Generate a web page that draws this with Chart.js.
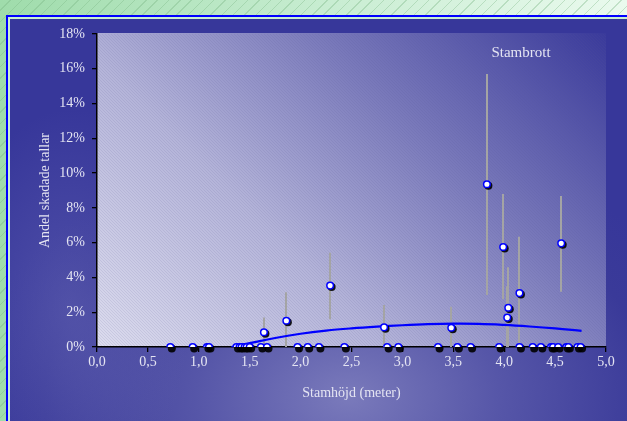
<!DOCTYPE html>
<html>
<head>
<meta charset="utf-8">
<script src="https://cdn.jsdelivr.net/npm/chart.js@4.4.1/dist/chart.umd.min.js"></script>
<style>
  html, body { margin: 0; padding: 0; }
  body {
    width: 627px; height: 421px; overflow: hidden; position: relative;
    background:
      repeating-linear-gradient(135deg, rgba(255,255,255,0) 0px, rgba(255,255,255,0) 7px, rgba(120,180,130,0.35) 7px, rgba(120,180,130,0.35) 8px),
      linear-gradient(90deg, #9fdcab 0%, #c6ecd0 50%, #eafaee 100%);
  }
  #panel {
    position: absolute; left: 6px; top: 15px; width: 640px; height: 420px;
    box-sizing: border-box;
    border: 2.5px solid #0000ff;
    box-shadow: inset 0 0 0 2px #c8efd2;
    background: radial-gradient(ellipse 380px 260px at 340px 380px, #7a7abb 0%, #5656a8 40%, #3a3a99 80%, #37379a 100%);
  }
  #panel::after {
    content: ""; position: absolute; left: 2px; top: 2px; right: 0; bottom: 0;
    background: radial-gradient(ellipse 120px 200px at 60px 290px, rgba(110,110,185,0.45) 0%, rgba(110,110,185,0) 100%);
  }
  canvas { position: absolute; left: 0; top: 0; }
</style>
</head>
<body>
<div id="panel"></div>
<canvas id="c" width="627" height="421"></canvas>
<script>
// ---- Data ----
const zeroHeights = [0.72, 0.94, 1.08, 1.10, 1.37, 1.40, 1.42, 1.45, 1.47, 1.50, 1.61, 1.67, 1.97, 2.07, 2.18, 2.43,
                     2.85, 2.96, 3.35, 3.54, 3.67, 3.95, 4.15, 4.28, 4.36, 4.46, 4.48, 4.53, 4.61, 4.63, 4.72, 4.75];
const damagedHeights = [1.64, 1.86, 2.29, 2.82, 3.48, 3.83, 3.99, 4.03, 4.04, 4.15, 4.56];
const damagedShares  = [0.85, 1.51, 3.53, 1.13, 1.11, 9.36, 5.75, 1.69, 2.26, 3.10, 5.96];
const errLow         = [0.00, 0.00, 1.59, 0.00, 0.00, 2.99, 2.74, 0.00, 0.00, 0.00, 3.18];
const errHigh        = [1.70, 3.15, 5.42, 2.41, 2.32, 15.7, 8.80, 3.50, 4.58, 6.34, 8.68];
const fitHeights = [1.32, 1.50, 1.75, 2.00, 2.25, 2.50, 2.75, 3.00, 3.25, 3.50, 3.75, 4.00, 4.25, 4.50, 4.76];
const fitShares  = [0.00, 0.22, 0.52, 0.76, 0.94, 1.07, 1.17, 1.25, 1.31, 1.34, 1.33, 1.27, 1.18, 1.07, 0.93];
const xTickLabels = ['0,0', '0,5', '1,0', '1,5', '2,0', '2,5', '3,0', '3,5', '4,0', '4,5', '5,0'];
const yTickLabels = ['0%', '2%', '4%', '6%', '8%', '10%', '12%', '14%', '16%', '18%'];
const xTitle = 'Stamhöjd (meter)';
const yTitle = 'Andel skadade tallar';
const seriesLabel = 'Stambrott';

const allPoints = zeroHeights.map(h => ({x: h, y: 0}))
  .concat(damagedHeights.map((h, i) => ({x: h, y: damagedShares[i]})));
const fitPoints = fitHeights.map((h, i) => ({x: h, y: fitShares[i]}));

const FONT = '"Liberation Serif", "Times New Roman", serif';
const TXT = '#e4e4f2';

const plotBg = {
  id: 'plotBg',
  beforeDraw(chart) {
    const {ctx, chartArea: a} = chart;
    ctx.save();
    const g = ctx.createLinearGradient(a.left + 60, a.bottom + 60, a.right - 40, a.top - 40);
    g.addColorStop(0, '#dcdcee');
    g.addColorStop(0.35, '#b4b4d9');
    g.addColorStop(0.65, '#7a7abb');
    g.addColorStop(1, '#3a3a9b');
    ctx.fillStyle = g;
    ctx.fillRect(a.left, a.top - 1, a.right - a.left, a.bottom - a.top + 1);
    ctx.beginPath();
    ctx.rect(a.left, a.top - 1, a.right - a.left, a.bottom - a.top + 1);
    ctx.clip();
    ctx.strokeStyle = 'rgba(90,90,150,0.12)';
    ctx.lineWidth = 1;
    const H = a.bottom - a.top;
    for (let s = a.left - H; s < a.right; s += 3) {
      ctx.beginPath();
      ctx.moveTo(s, a.top);
      ctx.lineTo(s + H, a.bottom);
      ctx.stroke();
    }
    ctx.restore();
  }
};

const errorBars = {
  id: 'errorBars',
  beforeDatasetsDraw(chart) {
    const {ctx} = chart;
    const xs = chart.scales.x, ys = chart.scales.y;
    ctx.save();
    ctx.strokeStyle = '#a4a4a4';
    ctx.lineWidth = 2;
    damagedHeights.forEach((h, i) => {
      const px = Math.round(xs.getPixelForValue(h));
      ctx.beginPath();
      ctx.moveTo(px, ys.getPixelForValue(errLow[i]));
      ctx.lineTo(px, ys.getPixelForValue(errHigh[i]));
      ctx.stroke();
    });
    ctx.restore();
  }
};

// dark drop shadow under each marker, drawn from the markers' own positions
const markerShadow = {
  id: 'markerShadow',
  beforeDatasetDraw(chart, args) {
    if (args.index !== 1) return;
    const ctx = chart.ctx;
    ctx.save();
    ctx.fillStyle = 'rgba(0,0,0,0.9)';
    args.meta.data.forEach(el => {
      ctx.beginPath();
      ctx.arc(el.x + 1.5, el.y + 1.5, 4, 0, Math.PI * 2);
      ctx.fill();
    });
    ctx.restore();
  }
};

const seriesText = {
  id: 'seriesText',
  afterDraw(chart) {
    const {ctx, chartArea: a} = chart;
    ctx.save();
    ctx.fillStyle = TXT;
    ctx.font = '15px ' + FONT;
    ctx.textAlign = 'center';
    ctx.textBaseline = 'middle';
    ctx.fillText(seriesLabel, a.left + (a.right - a.left) * 0.833, a.top + 19);
    ctx.restore();
  }
};

new Chart(document.getElementById('c'), {
  type: 'scatter',
  data: {
    datasets: [
      {
        type: 'line', data: fitPoints, borderColor: '#0000ff', borderWidth: 2.2,
        pointRadius: 0, fill: false, tension: 0.4, order: 2
      },
      {
        data: allPoints, pointRadius: 3.3, pointHoverRadius: 3.3,
        pointBackgroundColor: '#ffffff', pointBorderColor: '#0000ff', pointBorderWidth: 1.5, order: 1
      }
    ]
  },
  options: {
    responsive: false,
    animation: false,
    devicePixelRatio: 1,
    layout: { padding: { left: 0, right: 21, top: 34, bottom: 0 } },
    plugins: { legend: { display: false }, tooltip: { enabled: false } },
    scales: {
      x: {
        type: 'linear', min: 0, max: 5,
        afterFit(s) { s.height = 74; },
        afterBuildTicks(s) { s.ticks = xTickLabels.map((_, i) => ({value: i * 0.5})); },
        ticks: {
          callback: (v, i) => xTickLabels[i],
          color: TXT, font: { family: FONT, size: 14 }, padding: 2, maxRotation: 0, autoSkip: false
        },
        grid: { drawOnChartArea: false, color: '#000', tickLength: 5, lineWidth: 1.3 },
        border: { color: '#000', width: 1.5 },
        title: { display: true, text: xTitle, color: TXT, font: { family: FONT, size: 14 }, padding: { top: 0, bottom: 19 } }
      },
      y: {
        type: 'linear', min: 0, max: 18,
        afterFit(s) { s.width = 97; },
        afterBuildTicks(s) { s.ticks = yTickLabels.map((_, i) => ({value: i * 2})); },
        ticks: {
          callback: (v, i) => yTickLabels[i],
          color: TXT, font: { family: FONT, size: 14 }, padding: 7, autoSkip: false
        },
        grid: { drawOnChartArea: false, color: '#000', tickLength: 5, lineWidth: 1.3 },
        border: { color: '#000', width: 1.5 },
        title: { display: true, text: yTitle, color: TXT, font: { family: FONT, size: 14 }, padding: { top: 37, bottom: 0 } }
      }
    }
  },
  plugins: [plotBg, errorBars, markerShadow, seriesText]
});
</script>
</body>
</html>
